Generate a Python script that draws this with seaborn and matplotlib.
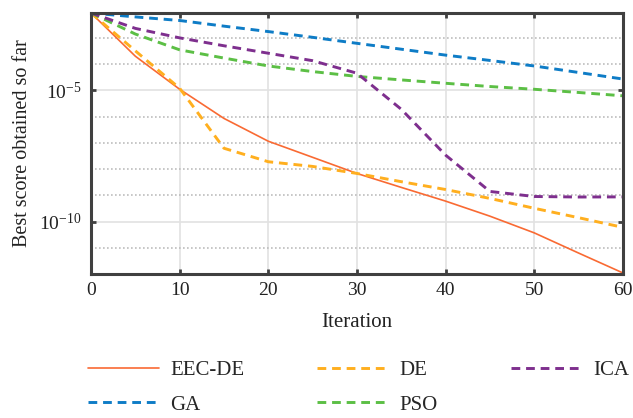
import numpy as np
import pandas as pd
import seaborn as sns
import matplotlib.pyplot as plt
from matplotlib.ticker import FixedLocator, LogFormatterMathtext, NullFormatter

# iterations and best scores
iterations = [0, 5, 10, 15, 20, 25, 30, 35, 40, 45, 50, 55, 60]
eec_de = [8.9e-3, 2.0e-4, 1.1e-5, 8.5e-7, 1.15e-7, 2.8e-8, 6.8e-9, 2.0e-9, 6.0e-10, 1.6e-10, 3.7e-11, 6.3e-12, 1.1e-12]
ga = [8.9e-3, 6.3e-3, 4.6e-3, 2.8e-3, 1.74e-3, 1.05e-3, 6.2e-4, 3.7e-4, 2.2e-4, 1.38e-4, 8.5e-5, 4.8e-5, 2.7e-5]
de = [8.9e-3, 3.2e-4, 1.2e-5, 6.2e-8, 1.9e-8, 1.26e-8, 6.8e-9, 3.3e-9, 1.66e-9, 7.6e-10, 3.2e-10, 1.4e-10, 6.0e-11]
pso = [8.9e-3, 1.4e-3, 3.5e-4, 1.7e-4, 8.5e-5, 5.2e-5, 3.4e-5, 2.5e-5, 1.86e-5, 1.4e-5, 1.1e-5, 8.3e-6, 6.2e-6]
ica = [8.9e-3, 2.3e-3, 1.0e-3, 5.0e-4, 2.6e-4, 1.35e-4, 4.5e-5, 1.9e-6, 3.4e-8, 1.4e-9, 9.0e-10, 8.6e-10, 8.7e-10]

names = ["EEC-DE", "GA", "DE", "PSO", "ICA"]
series = [eec_de, ga, de, pso, ica]
colors = ["#F96A33", "#0E7CC6", "#FFAF1F", "#5CBF45", "#7E2F8E"]

sns.set_style("ticks")
plt.rcParams["font.family"] = ["Liberation Serif", "DejaVu Serif"]
plt.rcParams["mathtext.fontset"] = "custom"
plt.rcParams["mathtext.rm"] = "Liberation Serif"
plt.rcParams["mathtext.it"] = "Liberation Serif:italic"

fig = plt.figure(figsize=(6.33, 4.18), dpi=100)
ax = fig.add_axes([0.1438, 0.3445, 0.8402, 0.6245])

for name, vals, col in zip(names, series, colors):
    d = pd.DataFrame({"Iteration": iterations, "score": vals})
    if name == "EEC-DE":
        sns.lineplot(data=d, x="Iteration", y="score", ax=ax, color=col, lw=1.2, label=name)
    else:
        sns.lineplot(data=d, x="Iteration", y="score", ax=ax, color=col, lw=2.1,
                     label=name, linestyle=(0, (3, 2)))

ax.set_yscale("log")
ax.set_xlim(0, 60)
ax.set_ylim(1e-12, 10 ** -2.05)
ax.set_xticks([0, 10, 20, 30, 40, 50, 60])
ax.yaxis.set_major_locator(FixedLocator([1e-5, 1e-10]))
ax.yaxis.set_major_formatter(LogFormatterMathtext())
ax.yaxis.set_minor_locator(FixedLocator([1e-3, 1e-4, 1e-6, 1e-7, 1e-8, 1e-9, 1e-11]))
ax.yaxis.set_minor_formatter(NullFormatter())

ax.grid(True, which="major", color="#E2E2E2", lw=1.2, ls="-")
ax.grid(True, which="minor", axis="y", color="#BDBDBD", lw=1.2, ls=(0, (1, 1.4)))
ax.set_axisbelow(True)

ax.tick_params(which="major", direction="in", length=3.8, width=2, color="#404040",
               top=True, right=True, labelsize=14, labelcolor="#222222", pad=6)
ax.tick_params(axis="y", which="major", pad=7)
ax.tick_params(which="minor", length=0)
for s in ax.spines.values():
    s.set_color("#404040")
    s.set_linewidth(2.2)

ax.set_xlabel("Iteration", fontsize=15, labelpad=10, color="#222222")
ax.set_ylabel("Best score obtained so far", fontsize=14.5, labelpad=5, color="#222222")

ax.legend(loc="center left", bbox_to_anchor=(88 / 633, 1 - 387.5 / 418),
          bbox_transform=fig.transFigure, ncol=3, frameon=False, borderpad=0,
          borderaxespad=0, fontsize=15, handlelength=3.4, handletextpad=0.55,
          columnspacing=3.5, labelspacing=0.72)

plt.savefig("out.png", dpi=100)
